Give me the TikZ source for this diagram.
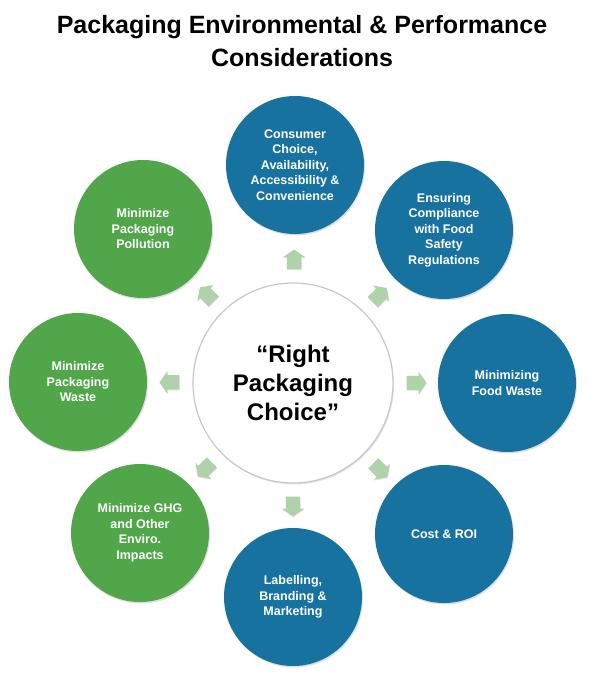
\documentclass[tikz,border=0pt]{standalone}
\usepackage{fontspec}
\setmainfont{Liberation Sans}
\usetikzlibrary{positioning, shapes.arrows, shadows, calc}
\definecolor{ringblue}{RGB}{24,114,160}
\definecolor{ringgreen}{RGB}{80,166,72}
\definecolor{arrowgreen}{RGB}{176,210,170}

\begin{document}
\begin{tikzpicture}[x=1pt, y=-1pt,
    topic/.style={circle, minimum size=138pt, inner sep=0pt, align=center, text=white,
        font=\bfseries\fontsize{12.5}{15.5}\selectfont,
        drop shadow={opacity=0.25, shadow xshift=1pt, shadow yshift=-1.5pt}},
    bluetopic/.style={topic, fill=ringblue},
    greentopic/.style={topic, fill=ringgreen},
    hub/.style={circle, draw=black!22, line width=1.2pt, fill=white, minimum size=200pt,
        align=center, font=\bfseries\fontsize{24}{29}\selectfont,
        drop shadow={opacity=0.2, shadow xshift=1pt, shadow yshift=-1.5pt}},
    pointer/.style={single arrow, fill=arrowgreen, minimum height=20pt, inner sep=7pt,
        single arrow head extend=4pt, single arrow tip angle=110,
        drop shadow={opacity=0.15, shadow xshift=0.5pt, shadow yshift=-1pt}}
]
    \useasboundingbox (0,0) rectangle (604,680);

    % Title
    \node[font=\bfseries\fontsize{25}{33}\selectfont, align=center] (title) at (302,41)
        {Packaging Environmental \& Performance\\Considerations};

    % Centre
    \node[hub] (choice) at (293,383) {“Right\\Packaging\\Choice”};

    % Blue topics
    \node[bluetopic] (consumer) at (295,165) {Consumer\\Choice,\\Availability,\\Accessibility \&\\Convenience};
    \node[bluetopic] (safety) at (444,230) {Ensuring\\Compliance\\with Food\\Safety\\Regulations};
    \node[bluetopic] (foodwaste) at (507,383) {Minimizing\\Food Waste};
    \node[bluetopic] (cost) at (444,534) {Cost \& ROI};
    \node[bluetopic] (labelling) at (293,597) {Labelling,\\Branding \&\\Marketing};

    % Green topics
    \node[greentopic] (ghg) at (140,533) {Minimize GHG\\and Other\\Enviro.\\Impacts};
    \node[greentopic] (waste) at (78,382) {Minimize\\Packaging\\Waste};
    \node[greentopic] (pollution) at (143,229) {Minimize\\Packaging\\Pollution};

    % Arrows
    \node[pointer, rotate=90] (a1) at ($(choice)!121pt!(consumer)$) {};
    \node[pointer, rotate=45] (a2) at ($(choice)!121pt!(safety)$) {};
    \node[pointer, rotate=0] (a3) at ($(choice)!121pt!(foodwaste)$) {};
    \node[pointer, rotate=-45] (a4) at ($(choice)!121pt!(cost)$) {};
    \node[pointer, rotate=-90] (a5) at ($(choice)!121pt!(labelling)$) {};
    \node[pointer, rotate=-135] (a6) at ($(choice)!121pt!(ghg)$) {};
    \node[pointer, rotate=180] (a7) at ($(choice)!121pt!(waste)$) {};
    \node[pointer, rotate=135] (a8) at ($(choice)!121pt!(pollution)$) {};
\end{tikzpicture}
\end{document}
